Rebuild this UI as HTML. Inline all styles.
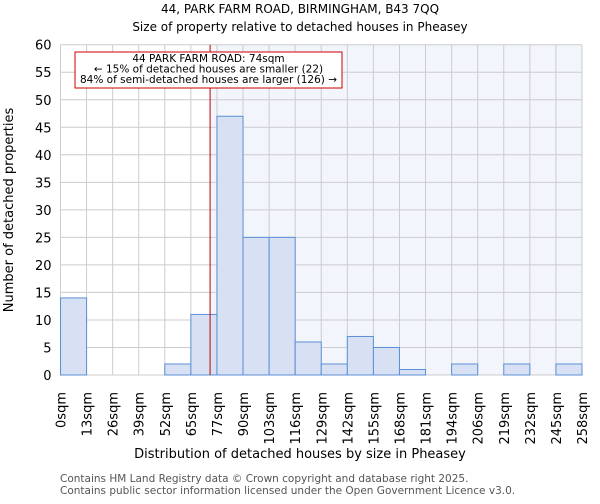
<!DOCTYPE html>
<html><head><meta charset="utf-8"><style>
body{margin:0;background:#fff;width:600px;height:500px;overflow:hidden;font-family:"DejaVu Sans","Liberation Sans",sans-serif}
svg text{font-family:"DejaVu Sans","Liberation Sans",sans-serif}
</style></head><body>
<svg id="c" width="600" height="500">
<text x="300" y="13" text-anchor="middle" font-size="12">44, PARK FARM ROAD, BIRMINGHAM, B43 7QQ</text>
<text x="300" y="31" text-anchor="middle" font-size="12">Size of property relative to detached houses in Pheasey</text>
<g id="plot"></g>
<text x="300" y="458" text-anchor="middle" font-size="13">Distribution of detached houses by size in Pheasey</text>
<text transform="translate(13,210) rotate(-90)" text-anchor="middle" font-size="13">Number of detached properties</text>
<text x="60" y="482" font-size="10.5" fill="#555">Contains HM Land Registry data © Crown copyright and database right 2025.</text>
<text x="60" y="494" font-size="10.5" fill="#555">Contains public sector information licensed under the Open Government Licence v3.0.</text>
</svg>
<script>
const binLabels=["0sqm","13sqm","26sqm","39sqm","52sqm","65sqm","77sqm","90sqm","103sqm","116sqm","129sqm","142sqm","155sqm","168sqm","181sqm","194sqm","206sqm","219sqm","232sqm","245sqm","258sqm"];
const counts=[14,0,0,0,2,11,47,25,25,6,2,7,5,1,0,2,0,2,0,2];
const yTicks=[0,5,10,15,20,25,30,35,40,45,50,55,60];
const subjectSize=74;
const binStep=12.9;
const X0=60.5,X1=582,Y0=375,Y1=44.7,YMAX=60;
const nb=counts.length,bw=(X1-X0)/nb;
const xs=v=>X0+v/binStep*bw, xi=i=>X0+i*bw, ys=v=>Y0-(Y0-Y1)*v/YMAX;
const NS="http://www.w3.org/2000/svg",g=document.getElementById('plot');
function mk(t,a){const e=document.createElementNS(NS,t);for(const k in a)e.setAttribute(k,a[k]);g.appendChild(e);return e;}
const sx=xs(subjectSize);
let e=mk('rect',{x:sx,y:Y1,width:X1-sx,height:Y0-Y1,fill:'#f2f5fc'});


for(let i=0;i<=nb;i++){e=mk('line',{x1:xi(i),x2:xi(i),y1:Y1,y2:Y0,stroke:'#ccc','stroke-width':1});

}
yTicks.forEach(t=>{e=mk('line',{x1:X0,x2:X1,y1:ys(t),y2:ys(t),stroke:'#ccc','stroke-width':1});


e=mk('text',{x:X0-9,y:ys(t)+5,'text-anchor':'end','font-size':13});e.textContent=t;

});
counts.forEach((c,i)=>{if(c<=0)return;e=mk('rect',{x:xi(i),y:ys(c),width:bw,height:Y0-ys(c),fill:'#d7e1f3',stroke:'#5b8fd6','stroke-width':1});

});
binLabels.forEach((l,i)=>{e=mk('text',{transform:`translate(${xi(i)+5},392) rotate(-90)`,'text-anchor':'end','font-size':13});e.textContent=l;

});
e=mk('line',{x1:sx,x2:sx,y1:Y1,y2:Y0,stroke:'#b00','stroke-width':1});


e=mk('rect',{x:75,y:52,width:267,height:36,fill:'#fff',stroke:'#c00','stroke-width':1});


["44 PARK FARM ROAD: 74sqm","← 15% of detached houses are smaller (22)","84% of semi-detached houses are larger (126) →"].forEach((t,k)=>{
e=mk('text',{x:208.5,y:62+k*10.5,'text-anchor':'middle','font-size':10.5});e.textContent=t;

});
</script>
</body></html>
